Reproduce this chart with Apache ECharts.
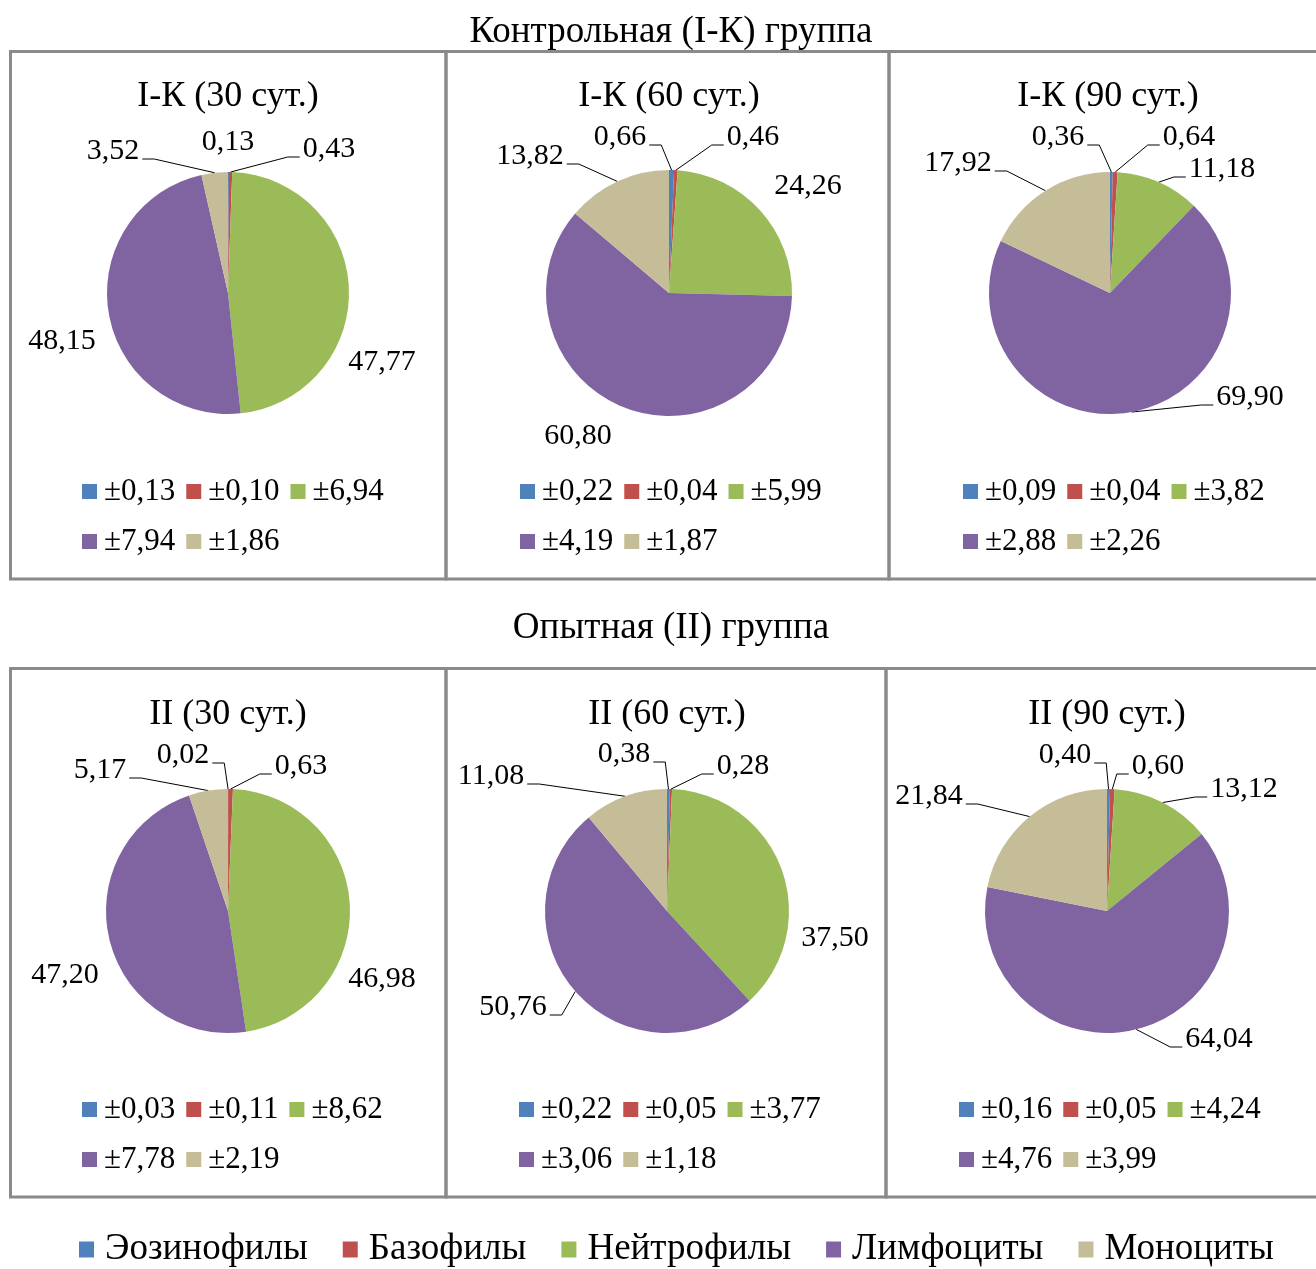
<!DOCTYPE html>
<html>
<head>
<meta charset="utf-8">
<script src="https://cdn.jsdelivr.net/npm/echarts@6/dist/echarts.min.js"></script>
<style>
  html, body { margin: 0; padding: 0; background: #fff; }
  #chart { width: 1316px; height: 1269px; }
</style>
</head>
<body>
<div id="chart"></div>
<script>
// Leukocyte formula (%), mean values and standard errors per group and day
const cellTypes = ['Эозинофилы', 'Базофилы', 'Нейтрофилы', 'Лимфоциты', 'Моноциты'];
const groupTitles = ['Контрольная (I-К) группа', 'Опытная (II) группа'];
const panelTitles = ['I-К (30 сут.)', 'I-К (60 сут.)', 'I-К (90 сут.)',
                     'II (30 сут.)', 'II (60 сут.)', 'II (90 сут.)'];

const meanK30 = [0.13, 0.43, 47.77, 48.15, 3.52];
const meanK60 = [0.66, 0.46, 24.26, 60.80, 13.82];
const meanK90 = [0.36, 0.64, 11.18, 69.90, 17.92];
const meanII30 = [0.02, 0.63, 46.98, 47.20, 5.17];
const meanII60 = [0.38, 0.28, 37.50, 50.76, 11.08];
const meanII90 = [0.40, 0.60, 13.12, 64.04, 21.84];

const seK30 = [0.13, 0.10, 6.94, 7.94, 1.86];
const seK60 = [0.22, 0.04, 5.99, 4.19, 1.87];
const seK90 = [0.09, 0.04, 3.82, 2.88, 2.26];
const seII30 = [0.03, 0.11, 8.62, 7.78, 2.19];
const seII60 = [0.22, 0.05, 3.77, 3.06, 1.18];
const seII90 = [0.16, 0.05, 4.24, 4.76, 3.99];

const means = [meanK30, meanK60, meanK90, meanII30, meanII60, meanII90];
const errors = [seK30, seK60, seK90, seII30, seII60, seII90];

// ---- layout and style ----
const FONT = "'Liberation Serif', 'Times New Roman', serif";
const COLORS = ['#4F81BD', '#C0504D', '#9BBB59', '#8064A2', '#C4BD97'];
const BORDER = '#8a8a8a';

const PIE_CENTER = [[228, 293], [669, 293], [1110, 293], [228, 911], [667, 911], [1107, 911]];
const PIE_RADIUS = [121, 123, 121, 122, 122, 122];
const PANEL_BOX = [
  [10.5, 51.5, 446, 579], [446, 51.5, 889, 579], [889, 51.5, 1322, 579],
  [10.5, 668.5, 446, 1197], [446, 668.5, 886, 1197], [886, 668.5, 1322, 1197]
];
const PANEL_TITLE_POS = [[228, 97], [669, 97], [1108, 97], [228, 715], [667, 715], [1107, 715]];
const GROUP_TITLE_POS = [[671, 32], [671, 628]];
const LEGEND_POS = [[82, 472], [520, 472], [963, 472], [82, 1090], [519, 1090], [959, 1090]];

// label spot relative to pie centre: [dx, dy, side of the leader line]
const LABEL_SPOTS = [
  [[0, -151, ''], [101, -144, 'l'], [154, 69, ''], [-166, 48, ''], [-115, -142, 'r']],
  [[-49, -156, 'r'], [84, -156, 'l'], [139, -107, ''], [-91, 143, ''], [-139, -137, 'r']],
  [[-52, -156, 'r'], [79, -156, 'l'], [112, -124, 'l'], [140, 104, 'l'], [-152, -130, 'r']],
  [[-45, -156, 'r'], [73, -145, 'l'], [154, 68, ''], [-163, 64, ''], [-128, -141, 'r']],
  [[-43, -157, 'r'], [76, -145, 'l'], [168, 27, ''], [-154, 96, 'r'], [-176, -135, 'r']],
  [[-42, -156, 'r'], [51, -145, 'l'], [137, -122, 'l'], [112, 128, 'l'], [-178, -115, 'r']]
];

const fmt = v => v.toFixed(2).replace('.', ',');

function makeLabelLayout(k) {
  return function (p) {
    const spot = LABEL_SPOTS[k][p.dataIndex];
    const x = PIE_CENTER[k][0] + spot[0];
    const y = PIE_CENTER[k][1] + spot[1];
    const out = { x: x, y: y, align: 'center', verticalAlign: 'middle' };
    if (spot[2] && p.labelLinePoints) {
      const anchor = p.labelLinePoints[0];
      const hw = p.labelRect.width / 2;
      const ly = y + 8;
      const ex = spot[2] === 'r' ? x + hw + 3 : x - hw - 3;
      const kx = spot[2] === 'r' ? ex + 12 : ex - 12;
      out.labelLinePoints = [anchor, [kx, ly], [ex, ly]];
    }
    return out;
  };
}

const series = means.map((vals, k) => ({
  type: 'pie',
  center: PIE_CENTER[k],
  radius: PIE_RADIUS[k],
  startAngle: 90,
  clockwise: true,
  avoidLabelOverlap: false,
  silent: true,
  animation: false,
  label: {
    show: true, position: 'outside',
    formatter: p => fmt(p.value),
    fontFamily: FONT, fontSize: 30, color: '#000'
  },
  labelLine: { show: true, length: 10, length2: 10, lineStyle: { color: '#000', width: 1 } },
  data: vals.map((v, i) => ({
    name: cellTypes[i],
    value: v,
    itemStyle: { color: COLORS[i] },
    labelLine: { show: LABEL_SPOTS[k][i][2] !== '' }
  })),
  labelLayout: makeLabelLayout(k)
}));

const panelLegends = errors.map((se, k) => ({
  data: cellTypes,
  left: LEGEND_POS[k][0],
  top: LEGEND_POS[k][1],
  width: 330,
  orient: 'horizontal',
  icon: 'rect',
  itemWidth: 15,
  itemHeight: 15,
  itemGap: 11,
  padding: 0,
  selectedMode: false,
  formatter: name => '±' + fmt(se[cellTypes.indexOf(name)]),
  textStyle: { fontFamily: FONT, fontSize: 31, color: '#000', lineHeight: 39, padding: [0, 0, 0, 2] }
}));

const mainLegend = {
  data: cellTypes,
  left: 79,
  top: 1231,
  orient: 'horizontal',
  icon: 'rect',
  itemWidth: 15,
  itemHeight: 16,
  itemGap: 35,
  padding: 0,
  selectedMode: false,
  textStyle: { fontFamily: FONT, fontSize: 37, color: '#000', padding: [0, 0, 0, 6] }
};

const graphics = [];
PANEL_BOX.forEach(b => {
  graphics.push({
    type: 'rect', silent: true,
    shape: { x: b[0], y: b[1], width: b[2] - b[0], height: b[3] - b[1] },
    style: { fill: 'none', stroke: BORDER, lineWidth: 3 }
  });
});
groupTitles.forEach((t, i) => {
  graphics.push({
    type: 'text', silent: true, x: GROUP_TITLE_POS[i][0], y: GROUP_TITLE_POS[i][1],
    style: { text: t, align: 'center', verticalAlign: 'middle', fontFamily: FONT, fontSize: 37, fill: '#000' }
  });
});
panelTitles.forEach((t, i) => {
  graphics.push({
    type: 'text', silent: true, x: PANEL_TITLE_POS[i][0], y: PANEL_TITLE_POS[i][1],
    style: { text: t, align: 'center', verticalAlign: 'middle', fontFamily: FONT, fontSize: 36, fill: '#000' }
  });
});

const chart = echarts.init(document.getElementById('chart'));
chart.setOption({
  backgroundColor: '#fff',
  animation: false,
  color: COLORS,
  legend: panelLegends.concat([mainLegend]),
  graphic: graphics,
  series: series
});
</script>
</body>
</html>
